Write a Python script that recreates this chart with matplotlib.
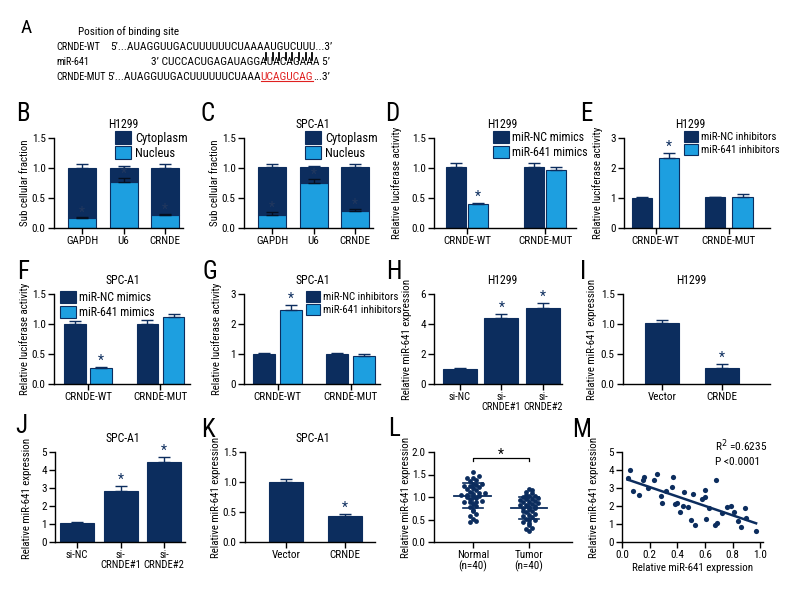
import numpy as np
import matplotlib
matplotlib.use('Agg')
import matplotlib.pyplot as plt
from matplotlib.patches import Patch
from matplotlib.lines import Line2D

# condensed face, close to the one in the reference
plt.rcParams['font.family'] = ['Roboto Condensed', 'DejaVu Sans']
plt.rcParams['axes.linewidth'] = 1.0

W, H = 792, 600
NAVY = '#0c2d5e'
BLUE = '#1d9fe0'

# ---- data ----
frac_genes = ['GAPDH', 'U6', 'CRNDE']
b_nucleus = [0.17, 0.77, 0.22]
b_nucleus_err = [0.02, 0.06, 0.02]
b_total = [1.00, 1.00, 1.00]
b_total_err = [0.06, 0.03, 0.06]
c_nucleus = [0.22, 0.75, 0.29]
c_nucleus_err = [0.05, 0.06, 0.03]
c_total = [1.01, 1.01, 1.01]
c_total_err = [0.06, 0.02, 0.06]

luc_groups = ['CRNDE-WT', 'CRNDE-MUT']
d_nc = [1.01, 1.02]
d_nc_err = [0.07, 0.07]
d_mir = [0.40, 0.96]
d_mir_err = [0.01, 0.05]
e_nc = [1.01, 1.02]
e_nc_err = [0.03, 0.02]
e_mir = [2.35, 1.05]
e_mir_err = [0.15, 0.07]
f_nc = [1.00, 1.00]
f_nc_err = [0.05, 0.07]
f_mir = [0.26, 1.11]
f_mir_err = [0.02, 0.05]
g_nc = [1.00, 1.00]
g_nc_err = [0.05, 0.05]
g_mir = [2.48, 0.95]
g_mir_err = [0.14, 0.05]

si_groups = ['si-NC', 'si-\nCRNDE#1', 'si-\nCRNDE#2']
h_vals = [1.00, 4.40, 5.10]
h_err = [0.04, 0.25, 0.30]
j_vals = [1.05, 2.82, 4.42]
j_err = [0.07, 0.28, 0.30]

ov_groups = ['Vector', 'CRNDE']
i_vals = [1.01, 0.27]
i_err = [0.05, 0.06]
k_vals = [1.00, 0.43]
k_err = [0.05, 0.04]

l_groups = ['Normal\n(n=40)', 'Tumor\n(n=40)']
normal = [1.55, 1.47, 1.42, 1.42, 1.38, 1.35, 1.30, 1.28, 1.26, 1.25,
          1.25, 1.22, 1.20, 1.18, 1.15, 1.12, 1.10, 1.10, 1.07, 1.05,
          1.05, 1.03, 1.01, 1.01, 0.98, 0.95, 0.92, 0.90, 0.88, 0.88,
          0.85, 0.80, 0.78, 0.72, 0.68, 0.62, 0.57, 0.52, 0.47, 0.45]
tumor = [1.18, 1.15, 1.12, 1.10, 1.05, 1.03, 1.02, 1.00, 0.98, 0.96,
         0.95, 0.93, 0.92, 0.90, 0.88, 0.86, 0.85, 0.83, 0.82, 0.80,
         0.78, 0.76, 0.75, 0.73, 0.70, 0.68, 0.66, 0.63, 0.60, 0.58,
         0.55, 0.52, 0.50, 0.48, 0.45, 0.42, 0.38, 0.32, 0.28, 0.25]

m_x = [0.04, 0.06, 0.08, 0.12, 0.15, 0.16, 0.19, 0.23, 0.25, 0.28,
       0.29, 0.32, 0.36, 0.37, 0.38, 0.40, 0.42, 0.44, 0.45, 0.48,
       0.50, 0.51, 0.53, 0.58, 0.60, 0.60, 0.61, 0.63, 0.67, 0.69,
       0.68, 0.72, 0.76, 0.79, 0.81, 0.84, 0.86, 0.89, 0.90, 0.97]
m_y = [3.57, 3.99, 2.83, 2.61, 3.44, 3.62, 3.00, 3.44, 3.80, 2.56,
       2.19, 2.83, 3.07, 3.62, 2.11, 2.15, 1.64, 2.02, 2.79, 1.97,
       1.23, 2.65, 0.96, 2.39, 2.89, 2.52, 1.29, 1.88, 0.96, 1.08,
       3.47, 1.62, 1.95, 2.02, 1.69, 1.18, 0.86, 1.91, 1.32, 0.62]

seq_wt = '5’...AUAGGUUGACUUUUUUCUAAAAUGUCUUU...3’'
seq_mir = '3’ CUCCACUGAGAUAGGAUACAGAAA 5’'
seq_mut = ['5’...AUAGGUUGACUUUUUUCUAAA', 'UCAGUCAG', '...3’']

LAB = 8      # tick labels
TIT = 8.5    # panel titles
YL = 7.8     # axis titles

fig = plt.figure(figsize=(W / 100, H / 100), dpi=100)
rend = fig.canvas.get_renderer()


def px(x, y):
    return x / W, 1 - y / H


def add_ax(l, t, r, b):
    ax = fig.add_axes([l / W, 1 - b / H, (r - l) / W, (b - t) / H])
    for s in ['top', 'right']:
        ax.spines[s].set_visible(False)
    ax.tick_params(direction='out', length=4, width=1, labelsize=LAB, pad=2)
    return ax


def ftext(x, y, s, **kw):
    return fig.text(*px(x, y), s, **kw)


def fit_text(x, y, s, width, **kw):
    # scale font so the string spans the given pixel width
    t = ftext(x, y, s, fontsize=10, **kw)
    w = t.get_window_extent(rend).width
    t.set_fontsize(10 * width / w)
    return t


def letter(x, y, s):
    ftext(x, y, s, fontsize=18, ha='center', va='center')


def title(x, y, s):
    ftext(x, y, s, fontsize=TIT, ha='center', va='center')


def ylab(x, y, s):
    ftext(x, y, s, fontsize=YL, rotation=90, ha='center', va='center')


def legend(ax, x, y, labels, size):
    hs = [Patch(facecolor=c, edgecolor=NAVY, linewidth=0.8) for c in (NAVY, BLUE)]
    ax.legend(hs, labels, loc='upper left', bbox_to_anchor=px(x, y),
              bbox_transform=fig.transFigure, frameon=False, fontsize=size,
              borderpad=0, borderaxespad=0, handlelength=1.3, handleheight=1.2,
              handletextpad=0.3, labelspacing=0.12)


def up_err(ax, x, y, e):
    ax.errorbar(x, y, yerr=[[0] * len(y), e], fmt='none', ecolor=NAVY,
                elinewidth=1, capsize=4, capthick=1)


def star(ax, x, y, color=NAVY):
    ax.text(x, y, '*', ha='center', va='center', fontsize=10, color=color)


# ---- A ----
ftext(26, 28, 'A', fontsize=14, ha='center', va='center')
ftext(78, 32, 'Position of binding site', fontsize=8, va='center')
ftext(56, 47, 'CRNDE-WT', fontsize=7.4, va='center')
ftext(56, 62, 'miR-641', fontsize=7.4, va='center')
ftext(56, 77, 'CRNDE-MUT', fontsize=7.4, va='center')
t = fit_text(110, 47, seq_wt, 220, va='center')
SEQ = t.get_fontsize()
ftext(151, 62, seq_mir, fontsize=SEQ, va='center')
t1 = ftext(107, 77, seq_mut[0], fontsize=SEQ, va='center')
bb = t1.get_window_extent(rend)
t2 = fig.text(bb.x1 / W, 1 - 77 / H, seq_mut[1], fontsize=SEQ, va='center', color='#e02020')
bb2 = t2.get_window_extent(rend)
fig.text(bb2.x1 / W, 1 - 77 / H, seq_mut[2], fontsize=SEQ, va='center')
fig.add_artist(Line2D([bb2.x0 / W, bb2.x1 / W], [(bb2.y0 + 1) / H] * 2,
                      color='#e02020', lw=0.8))
for k in range(8):
    bx = 266 + k * 6.6
    fig.add_artist(Line2D([bx / W] * 2, [1 - 53 / H, 1 - 60 / H], color='black', lw=1.3))


# ---- B, C : stacked fractions ----
def frac_panel(l, nuc, nuc_err, tot, tot_err, name, lx, tx):
    ax = add_ax(l, 138, l + 129, 228)
    x = np.arange(3)
    cyt = np.array(tot) - np.array(nuc)
    ax.bar(x, nuc, 0.67, color=BLUE, edgecolor=NAVY, lw=0.8)
    ax.bar(x, cyt, 0.67, bottom=nuc, color=NAVY, edgecolor=NAVY, lw=0.8)
    up_err(ax, x, tot, tot_err)
    ax.errorbar(x, nuc, yerr=[[0] * 3, nuc_err], fmt='none', ecolor='#050f20',
                elinewidth=1, capsize=4, capthick=1)
    for xi, n, e in zip(x, nuc, nuc_err):
        star(ax, xi, n + e + 0.07, '#22385e')
    ax.set_ylim(0, 1.5)
    ax.set_yticks([0, 0.5, 1.0, 1.5])
    ax.set_yticklabels(['0.0', '0.5', '1.0', '1.5'])
    ax.set_xlim(-0.675, 2.43)
    ax.set_xticks(x)
    ax.set_xticklabels(frac_genes)
    legend(ax, lx, 131, ['Cytoplasm', 'Nucleus'], 9)
    title(tx, 125, name)
    return ax


frac_panel(54, b_nucleus, b_nucleus_err, b_total, b_total_err, 'H1299', 115, 123)
ylab(25, 183, 'Sub cellular fraction')
letter(23, 114, 'B')
frac_panel(244, c_nucleus, c_nucleus_err, c_total, c_total_err, 'SPC-A1', 305, 313)
ylab(215, 183, 'Sub cellular fraction')
letter(208, 114, 'C')


# ---- D, E, F, G : luciferase ----
def luc_panel(l, t, r, b, xl, w, off, nc, nc_err, mir, mir_err, ymax, yt, ytl):
    ax = add_ax(l, t, r, b)
    x = np.arange(2)
    ax.bar(x - off, nc, w, color=NAVY, edgecolor=NAVY, lw=0.8)
    ax.bar(x + off, mir, w, color=BLUE, edgecolor=NAVY, lw=0.8)
    up_err(ax, x - off, nc, nc_err)
    up_err(ax, x + off, mir, mir_err)
    star(ax, off, mir[0] + mir_err[0] + ymax * 0.07)
    ax.set_ylim(0, ymax)
    ax.set_yticks(yt)
    ax.set_yticklabels(ytl)
    ax.set_xlim(*xl)
    ax.set_xticks(x)
    ax.set_xticklabels(luc_groups)
    return ax


yt15 = [0, 0.5, 1.0, 1.5]
ytl15 = ['0.0', '0.5', '1.0', '1.5']
ax = luc_panel(434, 138, 576, 228, (-0.423, 1.397), 0.256, 0.141, d_nc, d_nc_err, d_mir, d_mir_err,
               1.5, yt15, ytl15)
legend(ax, 493, 131, ['miR-NC mimics', 'miR-641 mimics'], 8.6)
title(502, 125, 'H1299')
ylab(397, 183, 'Relative luciferase activity')
letter(392, 114, 'D')

ax = luc_panel(624, 138, 770, 228, (-0.432, 1.56), 0.274, 0.185, e_nc, e_nc_err, e_mir, e_mir_err,
               3, [0, 1, 2, 3], ['0', '1', '2', '3'])
legend(ax, 684, 131, ['miR-NC inhibitors', 'miR-641 inhibitors'], 7.8)
title(690, 125, 'H1299')
ylab(598, 183, 'Relative luciferase activity')
letter(586, 114, 'E')

ax = luc_panel(54, 294, 190, 384, (-0.469, 1.407), 0.30, 0.18, f_nc, f_nc_err, f_mir, f_mir_err,
               1.5, yt15, ytl15)
legend(ax, 60, 291, ['miR-NC mimics', 'miR-641 mimics'], 8.6)
title(123, 281, 'SPC-A1')
ylab(25, 339, 'Relative luciferase activity')
letter(23, 272, 'F')

ax = luc_panel(244, 294, 380, 384, (-0.459, 1.404), 0.29, 0.185, g_nc, g_nc_err, g_mir, g_mir_err,
               3, [0, 1, 2, 3], ['0', '1', '2', '3'])
legend(ax, 306, 291, ['miR-NC inhibitors', 'miR-641 inhibitors'], 7.8)
title(313, 281, 'SPC-A1')
ylab(217, 339, 'Relative luciferase activity')
letter(210, 272, 'G')


# ---- H, I, J, K : single bars ----
def single_panel(l, t, r, b, xl, w, vals, err, labels, ymax, yt, ytl, stars, xsize=LAB):
    ax = add_ax(l, t, r, b)
    x = np.arange(len(vals))
    ax.bar(x, vals, w, color=NAVY, edgecolor=NAVY, lw=0.8)
    up_err(ax, x, vals, err)
    for i in stars:
        star(ax, x[i], vals[i] + err[i] + ymax * 0.07)
    ax.set_ylim(0, ymax)
    ax.set_yticks(yt)
    ax.set_yticklabels(ytl)
    ax.set_xlim(*xl)
    ax.set_xticks(x)
    ax.set_xticklabels(labels, linespacing=1.0, fontsize=xsize)
    return ax


single_panel(434, 294, 562, 384, (-0.627, 2.46), 0.82, h_vals, h_err, si_groups,
             6, [0, 2, 4, 6], ['0', '2', '4', '6'], [1, 2], 7.5)
title(502, 281, 'H1299')
ylab(407, 339, 'Relative miR-641 expression')
letter(394, 272, 'H')

single_panel(623, 294, 770, 384, (-0.65, 1.8), 0.57, i_vals, i_err, ov_groups,
             1.5, yt15, ytl15, [1])
title(691, 281, 'H1299')
ylab(592, 339, 'Relative miR-641 expression')
letter(583, 272, 'I')

single_panel(55, 452, 185, 542, (-0.506, 2.48), 0.78, j_vals, j_err, si_groups,
             5, [0, 1, 2, 3, 4, 5], ['0', '1', '2', '3', '4', '5'], [1, 2], 7.7)
title(123, 438, 'SPC-A1')
ylab(27, 498, 'Relative miR-641 expression')
letter(21, 426, 'J')

single_panel(245, 452, 375, 542, (-0.695, 1.508), 0.56, k_vals, k_err, ov_groups,
             1.5, yt15, ytl15, [1])
title(313, 438, 'SPC-A1')
ylab(216, 497, 'Relative miR-641 expression')
letter(208, 430, 'K')

# ---- L : scatter dot plot ----
ax = add_ax(434, 452, 572, 542)
for gx, vals in enumerate([normal, tumor]):
    v = np.sort(np.array(vals))
    bins = np.round(v / 0.06).astype(int)
    offs = np.zeros(len(v))
    for bval in np.unique(bins):
        idx = np.where(bins == bval)[0]
        n = len(idx)
        offs[idx] = (np.arange(n) - (n - 1) / 2) * 0.11
    ax.scatter(gx + offs, v, s=12, color=NAVY, zorder=3, linewidths=0)
    m, sd = np.mean(v), np.std(v)
    ax.plot([gx - 0.33, gx + 0.33], [m, m], color=NAVY, lw=1.3)
    ax.plot([gx - 0.18, gx + 0.18], [m + sd, m + sd], color=NAVY, lw=1.2)
    ax.plot([gx - 0.18, gx + 0.18], [m - sd, m - sd], color=NAVY, lw=1.2)
    ax.plot([gx, gx], [m - sd, m + sd], color=NAVY, lw=1.2)
ax.plot([0, 0, 1, 1], [1.8, 1.87, 1.87, 1.8], color='black', lw=0.9)
ax.text(0.5, 1.93, '*', ha='center', va='center', fontsize=10)
ax.set_ylim(0, 2.0)
ax.set_yticks([0, 0.5, 1.0, 1.5, 2.0])
ax.set_yticklabels(['0.0', '0.5', '1.0', '1.5', '2.0'])
ax.set_xlim(-0.696, 1.768)
ax.set_xticks([0, 1])
ax.set_xticklabels(l_groups, linespacing=1.0)
ylab(406, 497, 'Relative miR-641 expression')
letter(394, 429, 'L')

# ---- M : correlation ----
ax = add_ax(622, 452, 763, 542)
ax.scatter(m_x, m_y, s=14, color=NAVY, zorder=3, linewidths=0)
slope, icpt = np.polyfit(m_x, m_y, 1)
xx = np.array([min(m_x), max(m_x)])
ax.plot(xx, slope * xx + icpt, color=NAVY, lw=1.8)
ax.set_xlim(0, 1.02)
ax.set_ylim(0, 5)
ax.set_xticks([0, 0.2, 0.4, 0.6, 0.8, 1.0])
ax.set_xticklabels(['0.0', '0.2', '0.4', '0.6', '0.8', '1.0'])
ax.set_yticks([0, 1, 2, 3, 4, 5])
ax.set_xlabel('Relative miR-641 expression', fontsize=YL, labelpad=2)
ftext(715, 446, 'R$^2$ =0.6235', fontsize=8.2, va='center')
ftext(715, 462, 'P <0.0001', fontsize=8.2, va='center')
ylab(594, 497, 'Relative miR-641 expression')
letter(582, 430, 'M')

fig.savefig('out.png', dpi=100)
